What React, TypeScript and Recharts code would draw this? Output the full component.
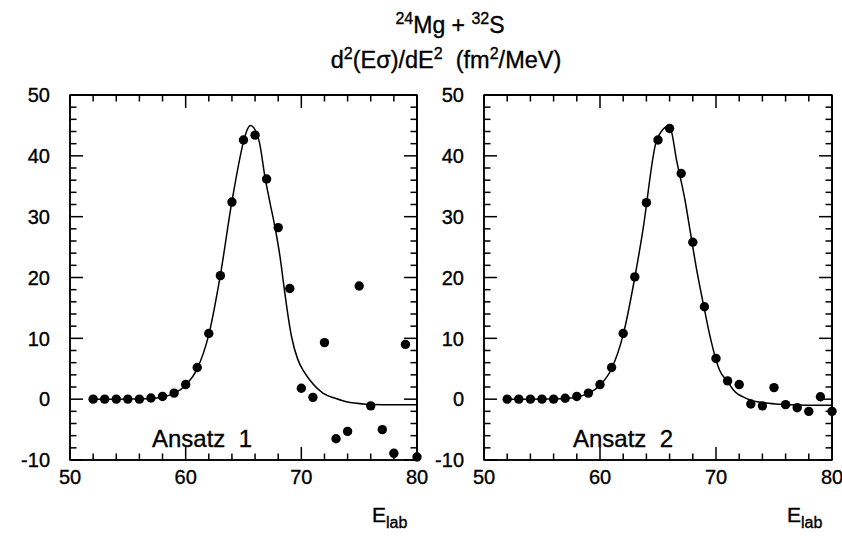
import { useEffect, useState } from "react";
import { ComposedChart, Scatter, Line, XAxis, YAxis, ReferenceArea, ReferenceLine } from "recharts";

// measured points, E_lab = 52 ... 80
const energies = [52, 53, 54, 55, 56, 57, 58, 59, 60, 61, 62, 63, 64, 65, 66, 67, 68, 69, 70, 71, 72, 73, 74, 75, 76, 77, 78, 79, 80];
const ansatz1Points = [0, 0, 0, 0, 0, 0.2, 0.45, 1.0, 2.4, 5.2, 10.8, 20.3, 32.4, 42.6, 43.4, 36.2, 28.2, 18.2, 1.8, 0.3, 9.3, -6.5, -5.3, 18.6, -1.1, -5.0, -8.9, 9.0, -9.5];
const ansatz2Points = [0, 0, 0, 0, 0, 0.15, 0.45, 1.0, 2.4, 5.2, 10.8, 20.1, 32.3, 42.6, 44.5, 37.1, 25.8, 15.2, 6.7, 3.0, 2.4, -0.8, -1.1, 1.9, -0.9, -1.4, -2.0, 0.4, -2.0];

// fitted curves
const ansatz1CurveE = [52, 54, 56, 57, 58, 59, 60, 61, 62, 63, 64, 65, 65.3, 65.6, 65.9, 66.4, 66.85, 67.3, 67.72, 68.15, 68.5, 68.75, 69.15, 69.7, 70.2, 70.75, 71.9, 73, 73.9, 75.6, 77, 80];
const ansatz1CurveY = [0, 0, 0.05, 0.1, 0.35, 0.95, 2.3, 5.0, 10.6, 20.4, 32.5, 42.3, 44.2, 45.0, 44.6, 42.0, 36.6, 32.2, 28.3, 23.5, 18.5, 15.0, 10.3, 6.5, 4.6, 3.1, 0.95, 0.1, -0.44, -0.82, -0.9, -0.9];
const ansatz2CurveE = [52, 54, 56, 57, 58, 59, 60, 61, 62, 63, 63.7, 64.8, 65.4, 65.75, 66.1, 66.6, 67.33, 67.76, 68.34, 69, 69.5, 70.3, 71, 71.5, 72.65, 74.1, 75.5, 77, 78.4, 80];
const ansatz2CurveY = [0, 0, 0.05, 0.1, 0.35, 0.95, 2.3, 5.0, 10.6, 20.0, 27.8, 42.0, 44.3, 44.8, 44.3, 39.3, 32.7, 27.8, 21.2, 14.8, 10.2, 4.8, 2.9, 1.5, 0.1, -0.6, -0.82, -0.95, -1.0, -1.0];

const xTicks = [50, 52, 54, 56, 58, 60, 62, 64, 66, 68, 70, 72, 74, 76, 78, 80];
const yTicks = [-10, -8, -6, -4, -2, 0, 2, 4, 6, 8, 10, 12, 14, 16, 18, 20, 22, 24, 26, 28, 30, 32, 34, 36, 38, 40, 42, 44, 46, 48, 50];
const X_MIN = 50;
const X_MAX = 80;
const Y_MIN = -10;
const Y_MAX = 50;

const FONT = "'Liberation Sans', Arial, Helvetica, sans-serif";
const W = 842;
const H = 536;
const HALF = 421;
const PLOT_TOP = 95;
const PLOT_BOTTOM = 460;
const LW = 1.5;

const ink = { stroke: "#000", strokeWidth: LW };
const tickLen = (v: number) => (v % 10 === 0 ? 13 : 6.5);

// inward marks drawn as thin filled bars, on the near edge and the opposite edge
const bottomTick = (span: number) => (props: any) => {
  const { x, y, payload } = props;
  const v = payload.value;
  const len = tickLen(v);
  return (
    <g>
      <rect x={x - LW / 2} y={y - len} width={LW} height={len} fill="#000" />
      <rect x={x - LW / 2} y={y - span} width={LW} height={len} fill="#000" />
      {v % 10 === 0 && (
        <text x={x} y={y + 24} textAnchor="middle" fontSize={20} fontFamily={FONT} fill="#000" stroke="#000" strokeWidth={0.35}>
          {v}
        </text>
      )}
    </g>
  );
};

const leftTick = (span: number) => (props: any) => {
  const { x, y, payload } = props;
  const v = payload.value;
  const len = tickLen(v);
  return (
    <g>
      <rect x={x} y={y - LW / 2} width={len} height={LW} fill="#000" />
      <rect x={x + span - len} y={y - LW / 2} width={len} height={LW} fill="#000" />
      {v % 10 === 0 && (
        <text x={x - 20} y={y} dy="0.36em" textAnchor="end" fontSize={20} fontFamily={FONT} fill="#000" stroke="#000" strokeWidth={0.35}>
          {v}
        </text>
      )}
    </g>
  );
};

const noTick = () => <g />;

const dotShape = (p: any) => <circle cx={p.cx} cy={p.cy} r={4.7} fill="#000" />;

interface PanelProps {
  points: number[];
  curveE: number[];
  curveY: number[];
  left: number;
  right: number;
}

// left/right are plot edges measured inside the panel's own 421px box
function Panel({ points, curveE, curveY, left, right }: PanelProps) {
  const scatterData = energies.map((e, i) => ({ x: e, y: points[i] }));
  const curveData = curveE.map((e, i) => ({ x: e, y: curveY[i] }));
  return (
    <ComposedChart
      width={HALF}
      height={H}
      margin={{ top: PLOT_TOP - 1, right: HALF - right - 1, bottom: H - PLOT_BOTTOM - 30, left: left - 60 }}
    >
      <XAxis
        xAxisId="b"
        dataKey="x"
        type="number"
        domain={[X_MIN, X_MAX]}
        ticks={xTicks}
        interval={0}
        height={30}
        tickSize={0}
        tickMargin={0}
        tickLine={false}
        axisLine={ink}
        tick={bottomTick(PLOT_BOTTOM - PLOT_TOP)}
      />
      <XAxis
        xAxisId="t"
        orientation="top"
        dataKey="x"
        type="number"
        domain={[X_MIN, X_MAX]}
        ticks={xTicks}
        height={1}
        tickSize={0}
        tickLine={false}
        axisLine={ink}
        tick={noTick}
      />
      <YAxis
        yAxisId="l"
        type="number"
        domain={[Y_MIN, Y_MAX]}
        ticks={yTicks}
        interval={0}
        width={60}
        tickSize={0}
        tickMargin={0}
        tickLine={false}
        axisLine={ink}
        tick={leftTick(right - left)}
      />
      <YAxis
        yAxisId="r"
        orientation="right"
        type="number"
        domain={[Y_MIN, Y_MAX]}
        ticks={yTicks}
        width={1}
        tickSize={0}
        tickLine={false}
        axisLine={ink}
        tick={noTick}
      />
      <ReferenceArea xAxisId="b" yAxisId="l" x1={X_MIN} x2={X_MAX} y1={Y_MIN} y2={Y_MAX} fill="none" fillOpacity={0} stroke="#000" strokeWidth={LW} />
      <ReferenceLine xAxisId="b" yAxisId="l" y={Y_MAX} stroke="#000" strokeWidth={LW} />
      <ReferenceLine xAxisId="b" yAxisId="l" x={X_MAX} stroke="#000" strokeWidth={LW} />
      <Line
        xAxisId="b"
        yAxisId="l"
        data={curveData}
        dataKey="y"
        type="monotone"
        stroke="#000"
        strokeWidth={LW}
        dot={false}
        isAnimationActive={false}
      />
      <Scatter xAxisId="t" yAxisId="r" data={scatterData} dataKey="y" shape={dotShape} isAnimationActive={false} />
    </ComposedChart>
  );
}

const sup = { fontSize: 16 };

export default function App() {
  // a couple of late re-renders so every layer of the charts gets painted
  const [, setPass] = useState(0);
  useEffect(() => {
    const a = setTimeout(() => setPass(1), 30);
    const b = setTimeout(() => setPass(2), 200);
    return () => {
      clearTimeout(a);
      clearTimeout(b);
    };
  }, []);

  return (
    <div style={{ position: "absolute", left: 0, top: 0, width: W, height: H, background: "#fff" }}>
      <style>{".recharts-surface { overflow: visible; }"}</style>
      <svg
        width={W}
        height={H}
        style={{ position: "absolute", left: 0, top: 0 }}
        xmlSpace="preserve"
        fontFamily={FONT}
        fill="#000"
        stroke="#000"
        strokeWidth={0.35}
      >
        <text x={450} y={33} textAnchor="middle" fontSize={23} xmlSpace="preserve">
          <tspan {...sup} dy={-9}>24</tspan>
          <tspan dy={9}>Mg + </tspan>
          <tspan {...sup} dy={-9}>32</tspan>
          <tspan dy={9}>S</tspan>
        </text>
        <text x={446} y={68} textAnchor="middle" fontSize={23.5} xmlSpace="preserve">
          <tspan>d</tspan>
          <tspan {...sup} dy={-9}>2</tspan>
          <tspan dy={9}>(Eσ)/dE</tspan>
          <tspan {...sup} dy={-9}>2</tspan>
          <tspan dy={9}>{"  (fm"}</tspan>
          <tspan {...sup} dy={-9}>2</tspan>
          <tspan dy={9}>/MeV)</tspan>
        </text>
        <text x={152} y={447} fontSize={24} xmlSpace="preserve">{"Ansatz  1"}</text>
        <text x={573} y={447} fontSize={24} xmlSpace="preserve">{"Ansatz  2"}</text>
        <text x={372} y={522} fontSize={21}>
          E<tspan fontSize={16} dy={6}>lab</tspan>
        </text>
        <text x={787} y={522} fontSize={21}>
          E<tspan fontSize={16} dy={6}>lab</tspan>
        </text>
      </svg>
      <div style={{ position: "absolute", left: 0, top: 0, display: "flex", width: W, height: H }}>
        <Panel points={ansatz1Points} curveE={ansatz1CurveE} curveY={ansatz1CurveY} left={70} right={417} />
        <Panel points={ansatz2Points} curveE={ansatz2CurveE} curveY={ansatz2CurveY} left={484 - HALF} right={832 - HALF} />
      </div>
    </div>
  );
}
